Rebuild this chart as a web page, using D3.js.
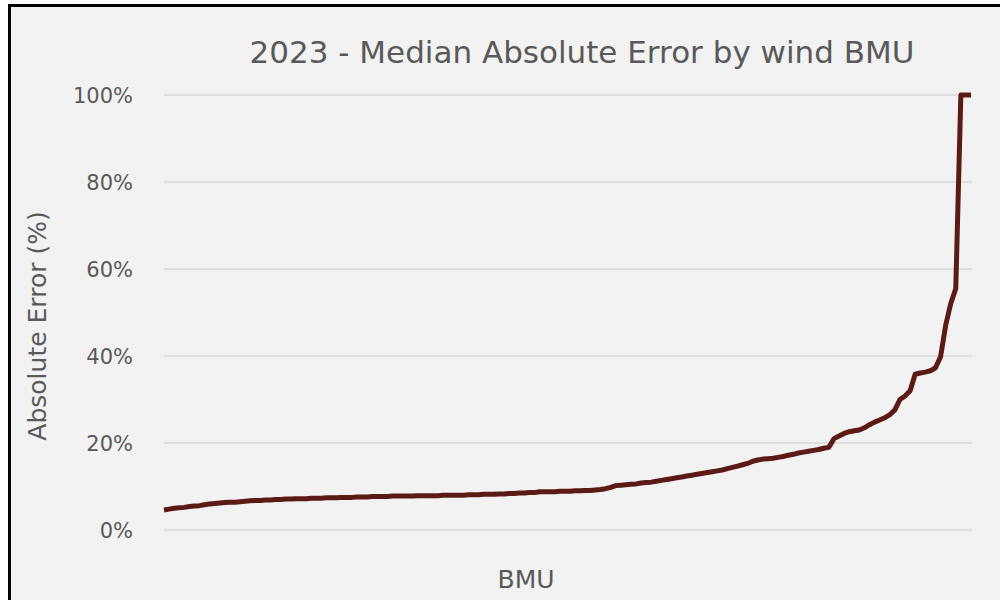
<!DOCTYPE html>
<html>
<head>
<meta charset="utf-8">
<script src="https://cdn.jsdelivr.net/npm/d3@7"></script>
<style>
  html, body { margin: 0; padding: 0; background: #ffffff; }
  svg { display: block; }
  text { font-family: "DejaVu Sans", "Noto Sans", sans-serif; fill: #595959; }
</style>
</head>
<body>
<svg id="chart" width="1000" height="600"></svg>
<script>
// Median absolute error per wind BMU, sorted ascending (percent)
const errorPct = [
  4.6, 4.8, 5.0, 5.1, 5.2, 5.4, 5.5, 5.6, 5.8, 6.0,
  6.1, 6.2, 6.3, 6.4, 6.4, 6.5, 6.6, 6.7, 6.8, 6.8,
  6.9, 6.9, 7.0, 7.0, 7.1, 7.1, 7.2, 7.2, 7.2, 7.3,
  7.3, 7.3, 7.4, 7.4, 7.4, 7.5, 7.5, 7.5, 7.6, 7.6,
  7.6, 7.7, 7.7, 7.7, 7.7, 7.8, 7.8, 7.8, 7.8, 7.8,
  7.9, 7.9, 7.9, 7.9, 7.9, 8.0, 8.0, 8.0, 8.0, 8.0,
  8.1, 8.1, 8.1, 8.2, 8.2, 8.2, 8.3, 8.3, 8.4, 8.4,
  8.5, 8.5, 8.6, 8.6, 8.8, 8.8, 8.8, 8.8, 8.9, 8.9,
  8.9, 9.0, 9.0, 9.1, 9.1, 9.2, 9.3, 9.5, 9.8, 10.2,
  10.3, 10.4, 10.5, 10.6, 10.8, 10.9, 11.0, 11.2, 11.4, 11.6,
  11.8, 12.0, 12.2, 12.4, 12.6, 12.8, 13.0, 13.2, 13.4, 13.6,
  13.8, 14.1, 14.4, 14.7, 15.0, 15.3, 15.8, 16.1, 16.3, 16.4,
  16.5, 16.7, 16.9, 17.2, 17.4, 17.7, 17.9, 18.1, 18.3, 18.5,
  18.8, 19.0, 21.0, 21.6, 22.2, 22.6, 22.8, 23.0, 23.5, 24.2,
  24.8, 25.3, 25.8, 26.5, 27.6, 30.0, 30.8, 32.0, 35.8, 36.1,
  36.3, 36.6, 37.3, 39.8, 47.0, 52.0, 55.5, 100.0, 100.0, 100.0
];
const bmuIndex = errorPct.map((_, i) => i);
const yTicks = [0, 20, 40, 60, 80, 100];

const titleText = "2023 - Median Absolute Error by wind BMU";
const yTitle = "Absolute Error (%)";
const xTitle = "BMU";

const svg = d3.select("#chart");

// chart frame
svg.append("rect")
  .attr("x", 9.5).attr("y", 5.5)
  .attr("width", 1010).attr("height", 610)
  .attr("fill", "#f2f2f2")
  .attr("stroke", "#000000")
  .attr("stroke-width", 3);

const x = d3.scalePoint().domain(bmuIndex).range([164, 971]);
const y = d3.scaleLinear().domain([0, 100]).range([530, 95]);

// horizontal gridlines
svg.append("g")
  .selectAll("line")
  .data(yTicks)
  .join("line")
  .attr("x1", 164).attr("x2", 972)
  .attr("y1", d => y(d)).attr("y2", d => y(d))
  .attr("stroke", "#d9d9d9")
  .attr("stroke-width", 1.5);

// y axis labels
const yAxis = d3.axisLeft(y)
  .tickValues(yTicks)
  .tickFormat(d => d + "%")
  .tickSize(0)
  .tickPadding(0);
const gy = svg.append("g")
  .attr("transform", "translate(133,0)")
  .call(yAxis);
gy.select(".domain").remove();
gy.selectAll("text")
  .attr("font-family", "DejaVu Sans, Noto Sans, sans-serif")
  .attr("font-size", 21)
  .attr("fill", "#595959")
  .attr("dy", "0.36em");

// error curve
const line = d3.line()
  .x((d, i) => x(i))
  .y(d => y(d));
svg.append("path")
  .datum(errorPct)
  .attr("d", line)
  .attr("fill", "none")
  .attr("stroke", "#5c1a16")
  .attr("stroke-width", 5)
  .attr("stroke-linejoin", "round");

// titles
svg.append("text")
  .attr("x", 582).attr("y", 63)
  .attr("text-anchor", "middle")
  .attr("font-size", 31)
  .text(titleText);

svg.append("text")
  .attr("transform", "translate(46,326) rotate(-90)")
  .attr("text-anchor", "middle")
  .attr("font-size", 25)
  .text(yTitle);

svg.append("text")
  .attr("x", 526).attr("y", 588)
  .attr("text-anchor", "middle")
  .attr("font-size", 25)
  .text(xTitle);
</script>
</body>
</html>
